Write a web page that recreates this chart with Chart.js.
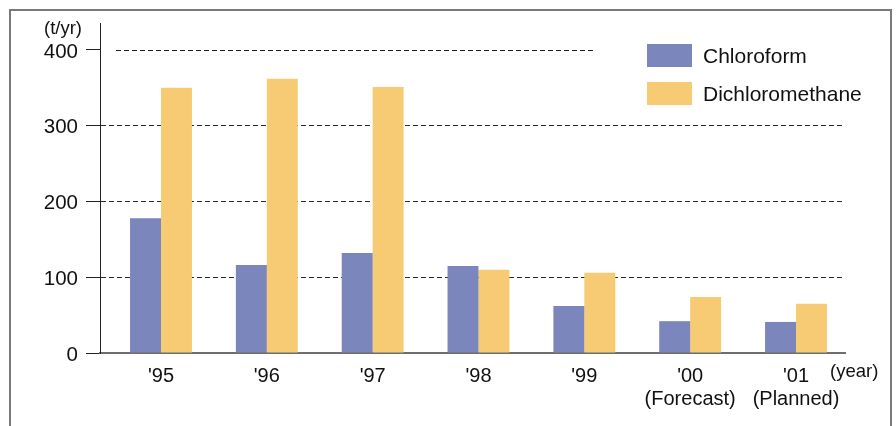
<!DOCTYPE html>
<html>
<head>
<meta charset="utf-8">
<script src="https://cdn.jsdelivr.net/npm/chart.js@4/dist/chart.umd.min.js"></script>
<style>
  html, body { margin: 0; padding: 0; background: #fff; }
  #wrap { width: 896px; height: 426px; position: relative; }
</style>
</head>
<body>
<div id="wrap"><canvas id="c"></canvas></div>
<script>
// ---- data ----
const categories = [["'95"], ["'96"], ["'97"], ["'98"], ["'99"], ["'00", "(Forecast)"], ["'01", "(Planned)"]];
const seriesNames = ["Chloroform", "Dichloromethane"];
const chloroform = [178, 116, 132, 115, 62, 42, 41];
const dichloromethane = [350, 362, 351, 110, 106, 74, 65];
const yTicks = [0, 100, 200, 300, 400];
const yUnit = "(t/yr)";
const xUnit = "(year)";

const colors = ["#7b86bd", "#f6cb74"];
const FONT = "'Liberation Sans', Arial, Helvetica, sans-serif";

const toPoints = arr => arr.map((v, i) => ({ x: i, y: v }));

const decor = {
  id: 'decor',
  beforeDraw(chart) {
    const ctx = chart.ctx;
    ctx.save();
    ctx.strokeStyle = '#7a7a7a';
    ctx.lineWidth = 2;
    ctx.strokeRect(10, 10, 881, 600);
    ctx.restore();
  },
  beforeDatasetsDraw(chart) {
    const ctx = chart.ctx;
    const y = Math.round(chart.scales.y.getPixelForValue(yTicks[yTicks.length - 1])) + 0.5;
    ctx.save();
    ctx.strokeStyle = '#222';
    ctx.lineWidth = 1;
    ctx.setLineDash([5, 3]);
    ctx.beginPath();
    ctx.moveTo(116, y);
    ctx.lineTo(593, y);
    ctx.stroke();
    ctx.restore();
  },
  afterDraw(chart) {
    const ctx = chart.ctx;
    ctx.save();
    ctx.fillStyle = '#111';
    ctx.font = '18.5px ' + FONT;
    ctx.textBaseline = 'middle';
    ctx.textAlign = 'center';
    ctx.fillText(yUnit, 63, 29);
    ctx.textAlign = 'left';
    ctx.fillText(xUnit, 830, 372);
    // legend
    ctx.font = '21px ' + FONT;
    seriesNames.forEach((name, i) => {
      const top = 44 + i * 38;
      ctx.fillStyle = colors[i];
      ctx.fillRect(647, top, 45, 23);
      ctx.fillStyle = '#111';
      ctx.fillText(name, 703, top + 13);
    });
    ctx.restore();
  }
};

new Chart(document.getElementById('c'), {
  type: 'bar',
  data: {
    datasets: [
      { label: seriesNames[0], data: toPoints(chloroform), backgroundColor: colors[0], borderWidth: 0,
        categoryPercentage: 0.585, barPercentage: 1 },
      { label: seriesNames[1], data: toPoints(dichloromethane), backgroundColor: colors[1], borderWidth: 0,
        categoryPercentage: 0.585, barPercentage: 1 }
    ]
  },
  options: {
    responsive: true,
    maintainAspectRatio: false,
    animation: false,
    devicePixelRatio: 1,
    layout: { padding: { top: 23, right: 51, left: 0, bottom: 0 } },
    plugins: { legend: { display: false }, tooltip: { enabled: false } },
    scales: {
      x: {
        type: 'linear',
        offset: false,
        min: -0.5764,
        max: 6.463,
        grid: { display: false, drawTicks: false, offset: false },
        border: { display: true, color: '#6e6e6e', width: 2 },
        afterFit(s) { s.height = 73; },
        afterBuildTicks(s) { s.ticks = s.ticks.filter(t => Number.isInteger(t.value) && t.value >= 0 && t.value < categories.length); },
        ticks: {
          stepSize: 1,
          includeBounds: false,
          autoSkip: false,
          maxRotation: 0,
          padding: 12,
          color: '#111',
          font: { family: FONT, size: 20, lineHeight: 1.15 },
          callback: v => categories[v]
        }
      },
      y: {
        min: 0,
        max: 435.6,
        afterFit(s) { s.width = 100; },
        afterBuildTicks(s) { s.ticks = yTicks.map(v => ({ value: v })); },
        grid: {
          drawTicks: true,
          tickLength: 14,
          tickColor: '#222',
          tickWidth: 1,
          lineWidth: 1,
          color: c => (c.tick && (c.tick.value === 0 || c.tick.value === 400)) ? 'rgba(0,0,0,0)' : '#2a2a2a'
        },
        border: { display: true, color: '#222', width: 1, dash: [5, 3] },
        ticks: {
          stepSize: 100,
          padding: 8,
          labelOffset: 2,
          color: '#111',
          font: { family: FONT, size: 20.5 }
        }
      }
    }
  },
  plugins: [decor]
});
</script>
</body>
</html>
